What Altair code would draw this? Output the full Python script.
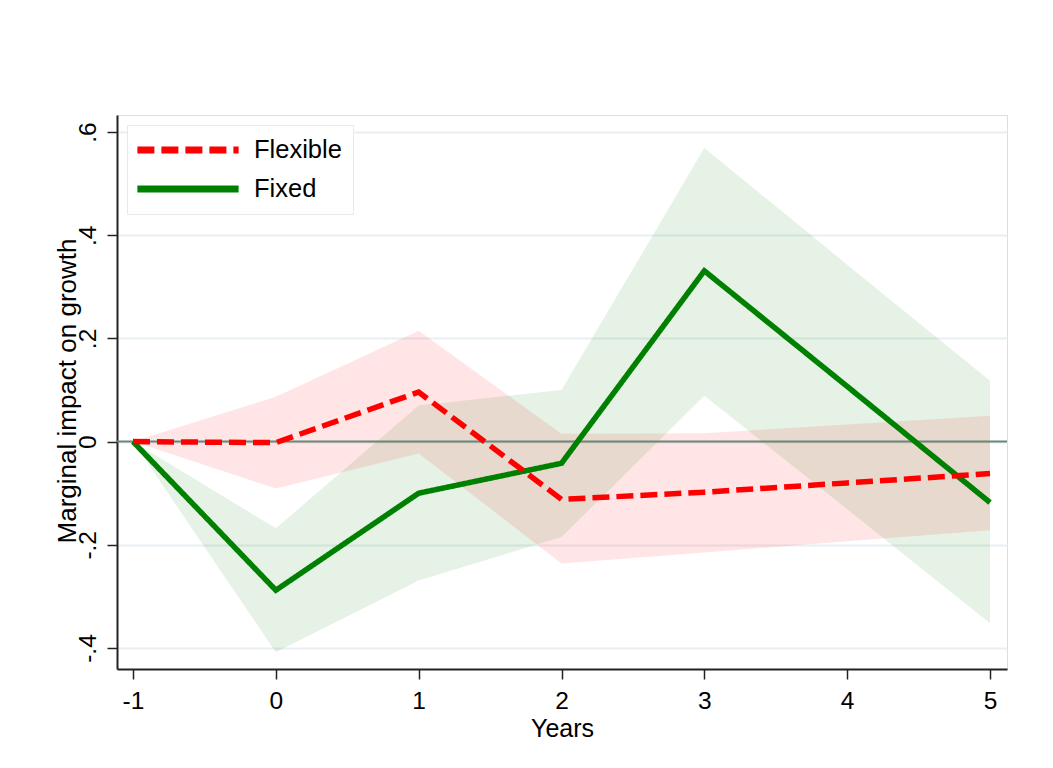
import altair as alt
import pandas as pd

# ---- data ----
years = [-1, 0, 1, 2, 3, 4, 5]

flex_mid = [0.0, -0.002, 0.096, -0.112, -0.098, -0.080, -0.062]
flex_lo = [0.0, -0.091, -0.023, -0.236, -0.215, -0.193, -0.172]
flex_hi = [0.0, 0.087, 0.215, 0.015, 0.016, 0.033, 0.050]

fixed_mid = [0.0, -0.288, -0.100, -0.042, 0.331, 0.107, -0.118]
fixed_lo = [0.0, -0.408, -0.269, -0.185, 0.089, -0.131, -0.352]
fixed_hi = [0.0, -0.168, 0.070, 0.100, 0.569, 0.343, 0.118]

series_names = ["Flexible", "Fixed"]
series_colors = ["#ff0000", "#008000"]
series_dash = [[17, 7], [1, 0]]

y_ticks = [-0.4, -0.2, 0.0, 0.2, 0.4, 0.6]
y_tick_labels = ["-.4", "-.2", "0", ".2", ".4", ".6"]
x_ticks = years
x_tick_labels = ["-1", "0", "1", "2", "3", "4", "5"]
zero_line = [0.0]

rows = []
for name, mid, lo, hi in [("Flexible", flex_mid, flex_lo, flex_hi),
                          ("Fixed", fixed_mid, fixed_lo, fixed_hi)]:
    for yr, m, l, h in zip(years, mid, lo, hi):
        rows.append({"year": yr, "series": name, "mid": m, "lo": l, "hi": h})
df = pd.DataFrame(rows)

FONT = "Liberation Sans"


def make_expr(values, labels):
    e = ""
    for v, t in zip(values, labels):
        e += f"datum.value == {v} ? '{t}' : "
    return e + "''"


xscale = alt.Scale(domain=[-1.112, 5.119], nice=False, zero=False)
yscale = alt.Scale(domain=[-0.4407, 0.633], nice=False, zero=False)

x_axis = alt.Axis(values=x_ticks, labelExpr=make_expr(x_ticks, x_tick_labels),
                  title="Years", grid=False,
                  tickSize=10, tickColor="#222222", tickWidth=1.5,
                  labelFontSize=24.5, labelPadding=29, labelBaseline="alphabetic",
                  labelColor="black", labelFont=FONT,
                  titleFontSize=25, titleFont=FONT, titleFontWeight="normal",
                  titleColor="black", titleX=445, titleY=67,
                  titleBaseline="alphabetic", titleAlign="center",
                  domainColor="#222222", domainWidth=2,
                  labelFlush=False, labelOverlap=False)
y_axis = alt.Axis(values=y_ticks, labelExpr=make_expr(y_ticks, y_tick_labels),
                  title="Marginal impact on growth",
                  grid=True, gridColor="#e9f0f3", gridWidth=2,
                  tickSize=10, tickColor="#222222", tickWidth=1.5,
                  labelFontSize=24.5, labelAngle=270, labelAlign="center",
                  labelBaseline="alphabetic", labelPadding=12,
                  labelColor="black", labelFont=FONT,
                  titleFontSize=26, titleFont=FONT, titleFontWeight="normal",
                  titleColor="black", titleAngle=270, titleX=-42, titleY=275.5,
                  titleAlign="center", titleBaseline="alphabetic",
                  domainColor="#222222", domainWidth=2,
                  labelFlush=False, labelOverlap=False)

base = alt.Chart(df)


def band(name, colour):
    return base.transform_filter(alt.datum.series == name).mark_area(
        color=colour, fillOpacity=0.1, opacity=1
    ).encode(
        x=alt.X("year:Q", scale=xscale, axis=x_axis),
        y=alt.Y("lo:Q", scale=yscale, axis=y_axis),
        y2="hi:Q",
    )


bands_fixed = band("Fixed", series_colors[1])
bands_flex = band("Flexible", series_colors[0])

zero = alt.Chart(pd.DataFrame({"z": zero_line})).mark_rule(
    color="#6b857a", strokeWidth=2
).encode(y=alt.Y("z:Q", scale=yscale, axis=y_axis))

legend = alt.Legend(
    orient="none", legendX=10, legendY=10, title=None,
    symbolType="M-5,0H5", symbolSize=410, symbolStrokeWidth=7,
    symbolOffset=36,
    labelFontSize=25.5, labelFont=FONT, labelColor="black", labelOffset=52,
    padding=11, strokeColor="#e3ebf0", fillColor="white", rowPadding=11,
)

color_scale = alt.Scale(domain=series_names, range=series_colors)
dash_scale = alt.Scale(domain=series_names, range=series_dash)


def line(name):
    return base.transform_filter(alt.datum.series == name).mark_line(
        strokeWidth=5.5, strokeCap="butt"
    ).encode(
        x=alt.X("year:Q", scale=xscale, axis=x_axis),
        y=alt.Y("mid:Q", scale=yscale, axis=y_axis),
        color=alt.Color("series:N", scale=color_scale, legend=legend),
        strokeDash=alt.StrokeDash("series:N", scale=dash_scale, legend=legend),
    )


chart = alt.layer(
    bands_fixed, bands_flex, zero, line("Fixed"), line("Flexible")
).properties(
    width=890, height=554,
    padding={"left": 109, "top": 107, "right": 30, "bottom": 80},
    autosize=alt.AutoSizeParams(type="none"),
    background="white",
).configure_view(
    stroke="#333333", strokeWidth=2
).configure(font=FONT)

chart.save("out.html", embed_options={"renderer": "svg", "actions": False})
